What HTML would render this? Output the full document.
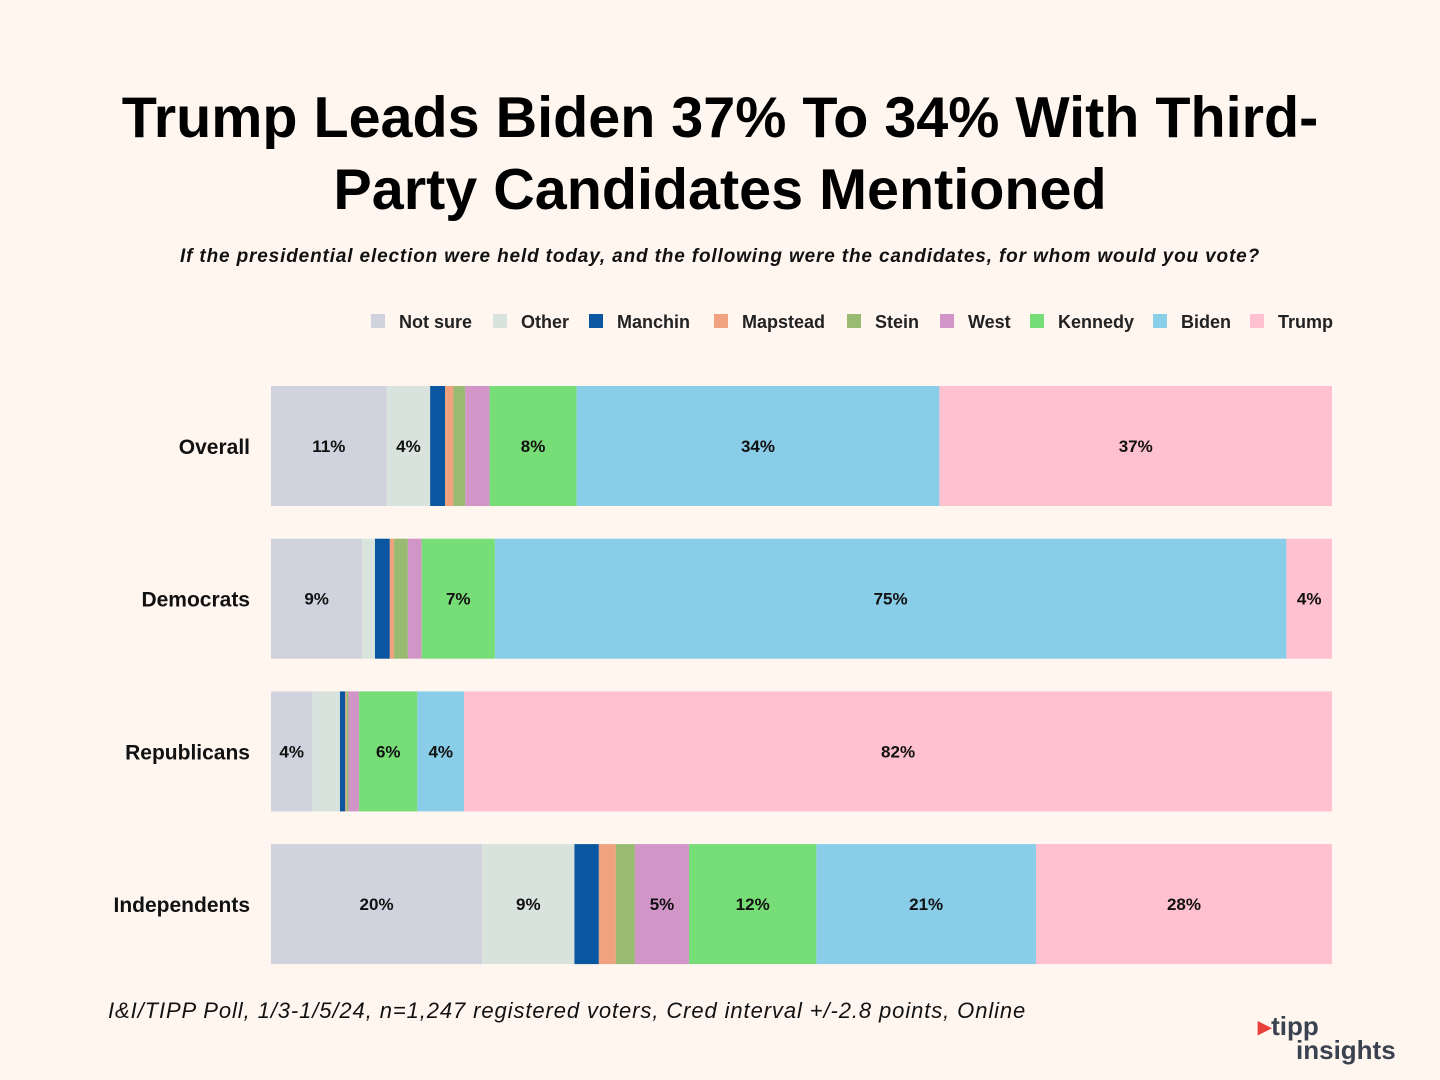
<!DOCTYPE html>
<html><head><meta charset="utf-8">
<style>
body{margin:0;width:1440px;height:1080px;background:#fff6f0;font-family:"Liberation Sans",sans-serif;overflow:hidden;position:relative}
#title{position:absolute;top:82px;left:0;width:1440px;text-align:center;font-weight:bold;font-size:57.5px;line-height:72px;color:#000}
#sub{position:absolute;top:246px;left:0;width:1440px;text-align:center;font-style:italic;font-weight:bold;font-size:19px;letter-spacing:0.85px;color:#111}
#foot{position:absolute;top:998px;left:108px;font-style:italic;font-size:22px;letter-spacing:0.9px;color:#111}
#logo{position:absolute;left:1258px;top:1014px;font-weight:bold;font-size:26px;line-height:24px;color:#3a4250}
</style></head><body>
<div id="title">Trump Leads Biden 37% To 34% With Third-<br>Party Candidates Mentioned</div>
<div id="sub">If the presidential election were held today, and the following were the candidates, for whom would you vote?</div>
<svg id="chart" width="1440" height="1080" style="position:absolute;left:0;top:0"></svg>
<div id="foot">I&amp;I/TIPP Poll, 1/3-1/5/24, n=1,247 registered voters, Cred interval +/-2.8 points, Online</div>
<div id="logo"><span style="color:#e8403a">&#9656;</span>tipp<br><span style="margin-left:38px">insights</span></div>
<script>
const categories=["Overall","Democrats","Republicans","Independents"];
const seriesNames=["Not sure","Other","Manchin","Mapstead","Stein","West","Kennedy","Biden","Trump"];
const colors=["#d0d3de","#d9e3dd","#0b56a0","#f0a27e","#98bb71","#d295c8","#77dd77","#89cde9","#ffc0cf"];
const overall=[10.9,4.1,1.4,0.8,1.1,2.3,8.2,34.2,37.0];
const democrats=[8.6,1.2,1.4,0.4,1.3,1.3,6.9,74.6,4.3];
const republicans=[3.9,2.6,0.5,0.1,0.2,1.0,5.5,4.4,81.8];
const independents=[19.9,8.7,2.3,1.6,1.8,5.1,12.0,20.7,27.9];
const values=[overall,democrats,republicans,independents];
const svg=document.getElementById('chart');
const NS='http://www.w3.org/2000/svg';
const X0=271,X1=1332,Y0=386,STEP=152.7,BH=120;
function x(v){return X0+(X1-X0)*v/100;}
function y(i){return Y0+i*STEP;}
function mk(t,a){const e=document.createElementNS(NS,t);for(const k in a)e.setAttribute(k,a[k]);svg.appendChild(e);return e;}
const lx=[371,493,589,714,847,940,1030,1153,1250];
seriesNames.forEach((n,i)=>{
  const r=mk('rect',{x:lx[i],y:314,width:14,height:14,fill:colors[i]});
  
  
  const t=mk('text',{x:lx[i]+28,y:328,'font-size':18,'font-weight':'bold','fill':'#222','font-family':'Liberation Sans'});
  t.textContent=n;
  
  
});
categories.forEach((c,i)=>{
  const l=mk('text',{x:250,y:y(i)+BH/2+8,'text-anchor':'end','font-size':21,'font-weight':'bold',fill:'#111'});
  l.textContent=c;
  
  
  let acc=0;
  values[i].forEach((v,j)=>{
    const r=mk('rect',{x:x(acc),y:y(i),width:x(acc+v)-x(acc),height:BH,fill:colors[j]});
    
    
    if(v>=3.5){
      const t=mk('text',{x:(x(acc)+x(acc+v))/2,y:y(i)+BH/2+6,'text-anchor':'middle','font-size':17,'font-weight':'bold',fill:'#111'});
      t.textContent=Math.round(v)+'%';
      
      
    }
    acc+=v;
  });
});
</script>
</body></html>
